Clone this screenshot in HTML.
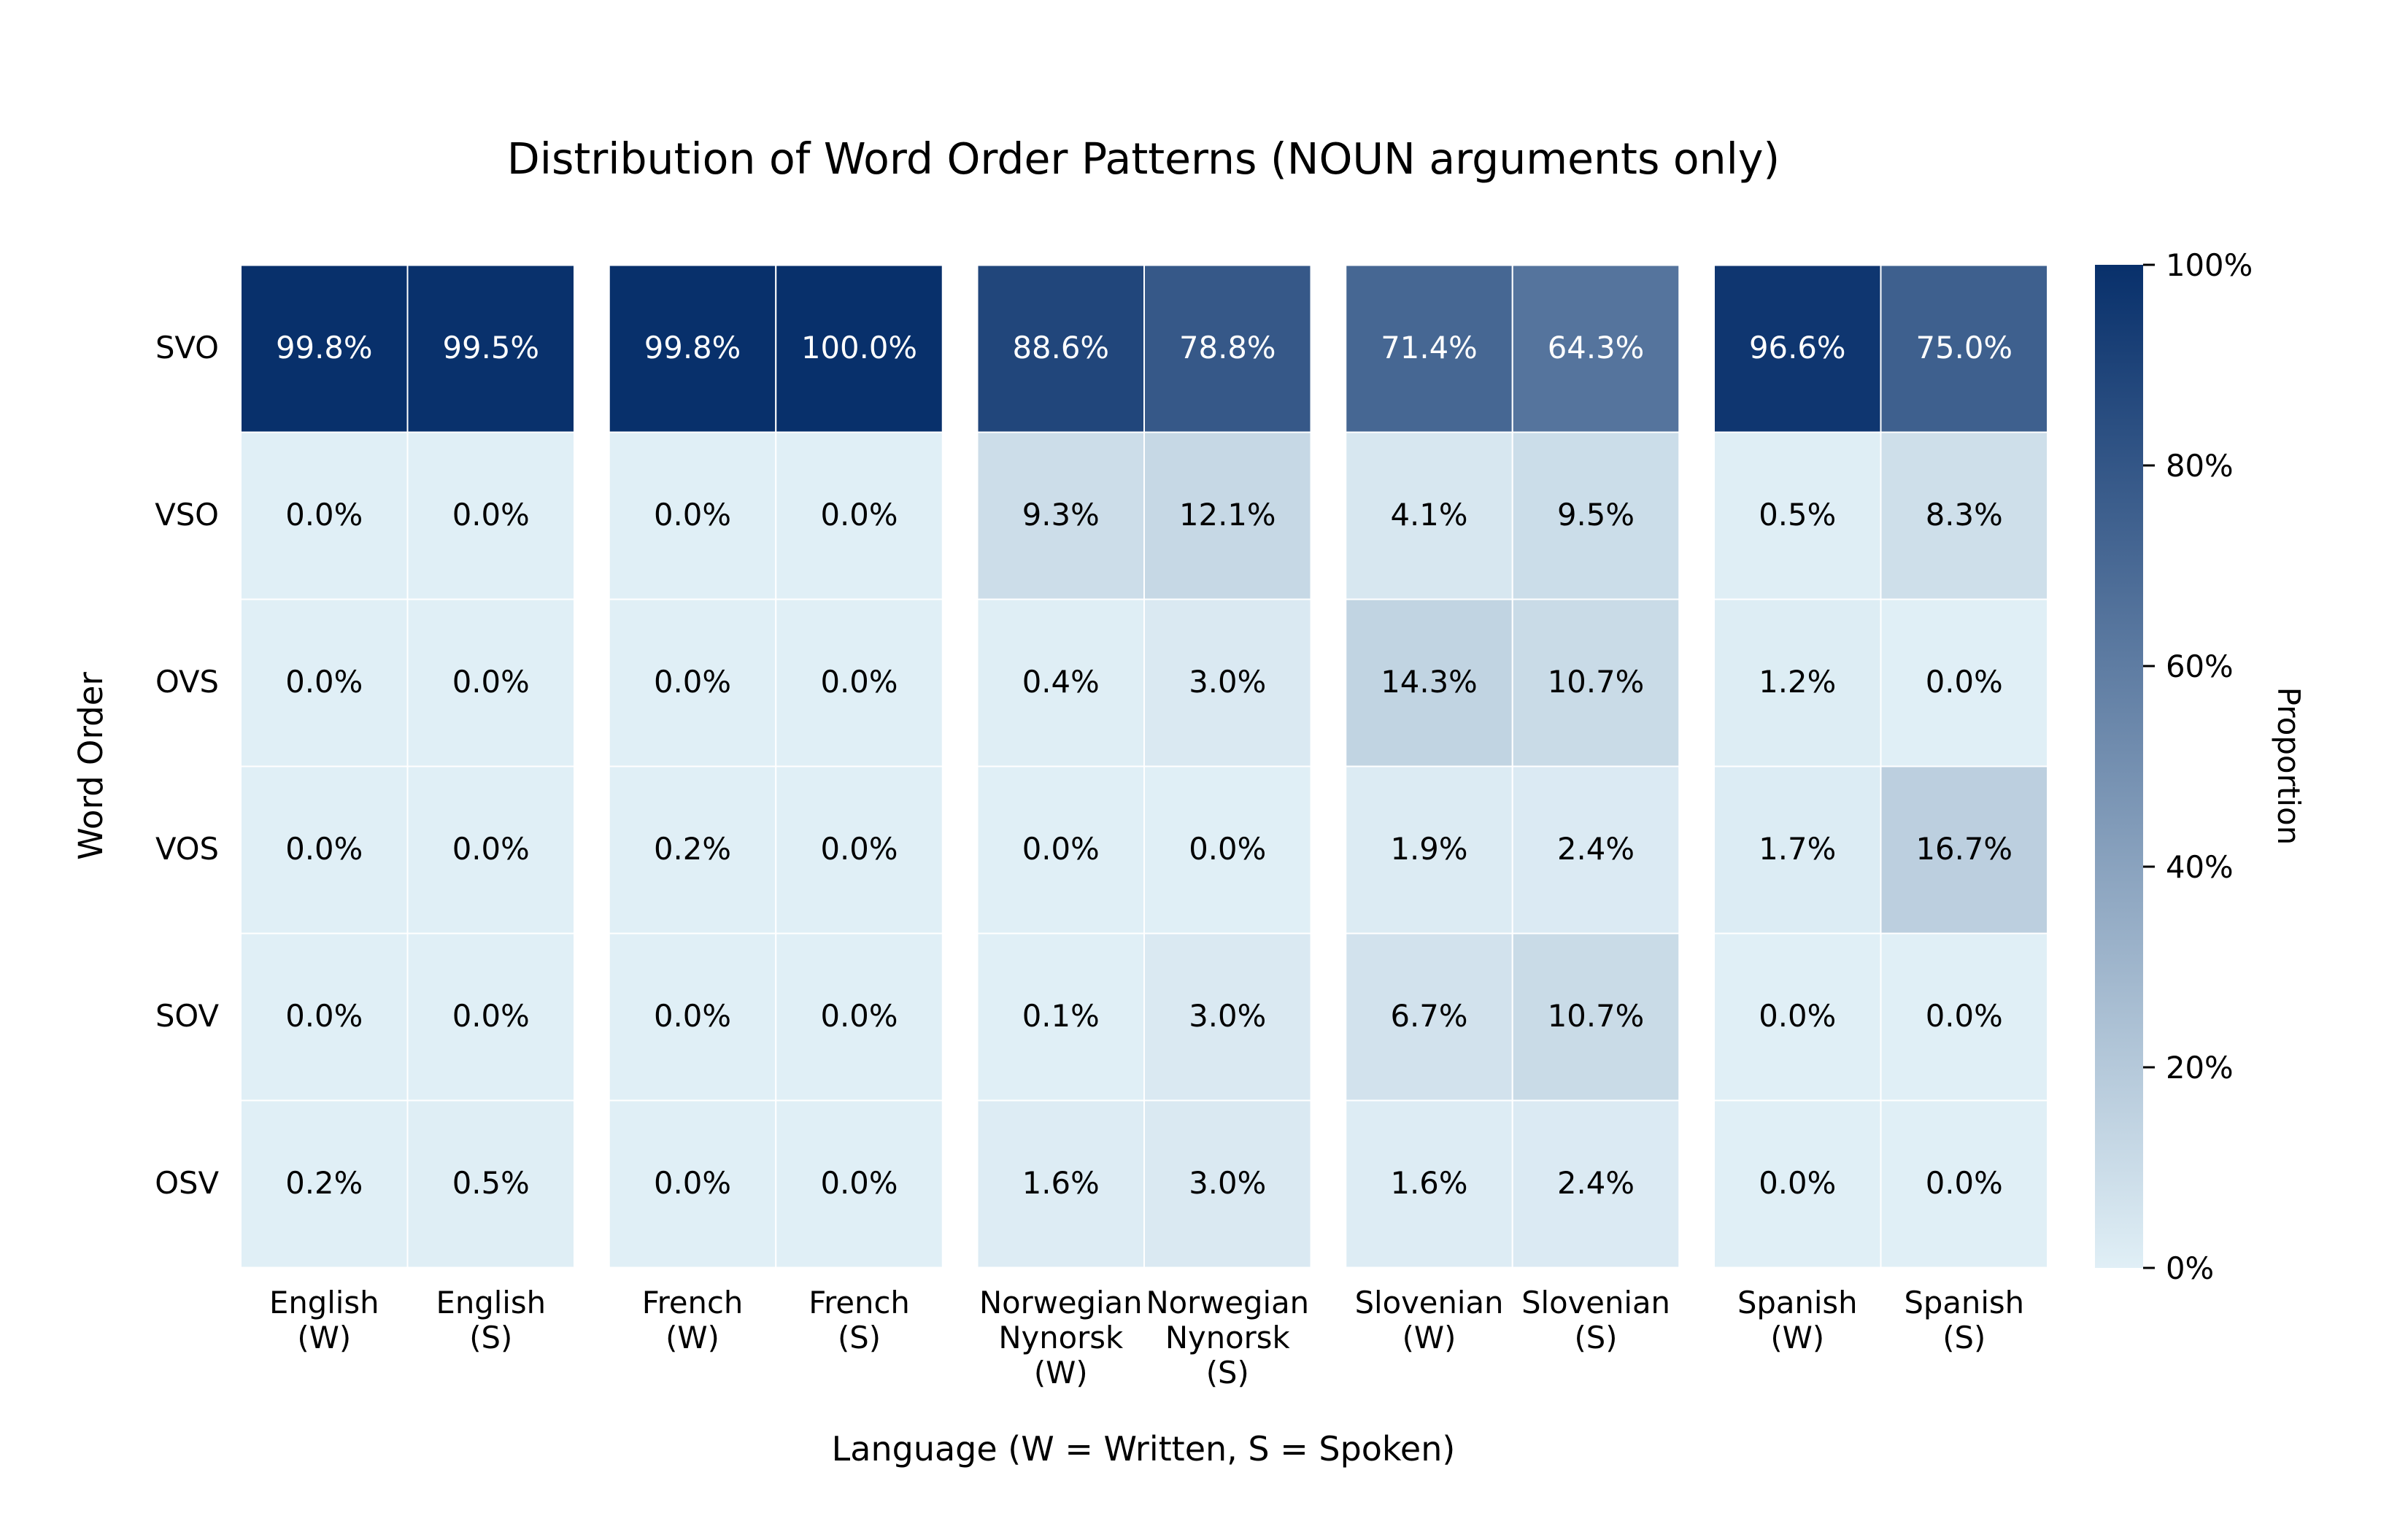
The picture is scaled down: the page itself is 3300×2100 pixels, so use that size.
<!DOCTYPE html>
<html><head><meta charset="utf-8"><style>
html,body{margin:0;padding:0;background:#fff;}
svg{display:block;font-family:"DejaVu Sans","Liberation Sans",sans-serif;}
</style></head><body>
<svg id="chart" width="3300" height="2100" viewBox="0 0 3300 2100" xmlns="http://www.w3.org/2000/svg">
<defs><linearGradient id="cbgrad" x1="0" y1="1" x2="0" y2="0">
<stop offset="0" stop-color="#e0eff6"/><stop offset="1" stop-color="#08306b"/></linearGradient></defs>
<text x="1567" y="238" font-size="58.4" text-anchor="middle">Distribution of Word Order Patterns (NOUN arguments only)</text>
<g id="cells"></g>
<g id="ylabels"></g>
<g id="xlabels"></g>
<text transform="translate(140,1050) rotate(-90)" font-size="45" text-anchor="middle">Word Order</text>
<text x="1567" y="2002" font-size="46" text-anchor="middle">Language (W = Written, S = Spoken)</text>
<rect x="2871" y="363" width="66" height="1375" fill="url(#cbgrad)"/>
<g id="cbticks"></g>
<text transform="translate(3122,1050) rotate(90)" font-size="42" text-anchor="middle">Proportion</text>
</svg>
<script>
const rowLabels = ["SVO","VSO","OVS","VOS","SOV","OSV"];
const colLines = [["English","(W)"],["English","(S)"],["French","(W)"],["French","(S)"],["Norwegian","Nynorsk","(W)"],["Norwegian","Nynorsk","(S)"],["Slovenian","(W)"],["Slovenian","(S)"],["Spanish","(W)"],["Spanish","(S)"]];
const rowSVO = [99.8,99.5,99.8,100.0,88.6,78.8,71.4,64.3,96.6,75.0];
const rowVSO = [0,0,0,0,9.3,12.1,4.1,9.5,0.5,8.3];
const rowOVS = [0,0,0,0,0.4,3.0,14.3,10.7,1.2,0];
const rowVOS = [0,0,0.2,0,0,0,1.9,2.4,1.7,16.7];
const rowSOV = [0,0,0,0,0.1,3.0,6.7,10.7,0,0];
const rowOSV = [0.2,0.5,0,0,1.6,3.0,1.6,2.4,0,0];
const values = [rowSVO,rowVSO,rowOVS,rowVOS,rowSOV,rowOSV];
const cbTicks = [0,20,40,60,80,100];

const NS="http://www.w3.org/2000/svg";
const top0=363.5, bot0=1737.5, rowH=(bot0-top0)/6, cellW=228.5, panelStep=504.75, left0=330;
function colX(j){return left0+Math.floor(j/2)*panelStep+(j%2)*cellW;}
function rowY(i){return top0+i*rowH;}
const lo=[224,239,246], hi=[8,48,107];
function color(v){const t=Math.max(0,Math.min(1,v/100));const c=lo.map((a,k)=>Math.round(a+(hi[k]-a)*t));return `rgb(${c[0]},${c[1]},${c[2]})`;}
function cbY(v){return 1738-(v/100)*1375;}
function mk(tag,attrs,parent,txt){const e=document.createElementNS(NS,tag);for(const k in attrs)e.setAttribute(k,attrs[k]);if(txt!==undefined)e.textContent=txt;parent.appendChild(e);return e;}

const cells=document.getElementById('cells');
values.forEach((row,i)=>{row.forEach((v,j)=>{
  const r=mk('rect',{x:colX(j),y:rowY(i),width:cellW,height:rowH,fill:color(v),stroke:'#fff','stroke-width':2},cells);
  
  
  const t=mk('text',{x:colX(j)+cellW/2,y:rowY(i)+rowH/2+13,'font-size':41.7,'text-anchor':'middle',fill:v>50?'#fff':'#000'},cells,v.toFixed(1)+'%');
  
  
});});
const yl=document.getElementById('ylabels');
rowLabels.forEach((l,i)=>{
  const t=mk('text',{x:300,y:rowY(i)+rowH/2+13,'font-size':41.7,'text-anchor':'end'},yl,l);
  
  
});
const xl=document.getElementById('xlabels');
colLines.forEach((lines,j)=>{
  const t=mk('text',{'font-size':41.7,'text-anchor':'middle'},xl);
  
  
  lines.forEach((ln,k)=>{mk('tspan',{x:colX(j)+cellW/2,y:1800+k*48},t,ln);});
});
const cb=document.getElementById('cbticks');
cbTicks.forEach(v=>{
  const y=cbY(v);
  const l=mk('line',{x1:2937,x2:2953,y1:y,y2:y,stroke:'#000','stroke-width':3},cb);
  
  
  const t=mk('text',{x:2968,y:y+15,'font-size':41.7},cb,v+'%');
  
  
});
</script>
</body></html>
